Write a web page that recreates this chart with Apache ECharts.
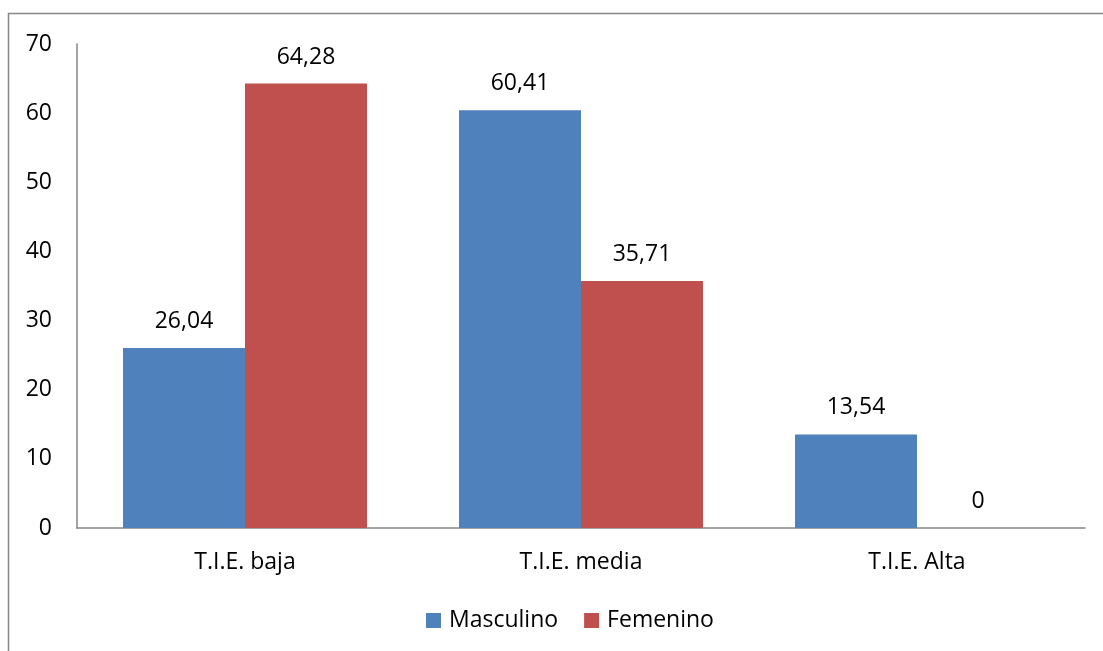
<!DOCTYPE html>
<html><head><meta charset="utf-8">
<script src="https://cdn.jsdelivr.net/npm/echarts@6/dist/echarts.min.js"></script>
<style>html,body{margin:0;padding:0;background:#fff}#c{width:1103px;height:651px}</style>
</head><body><div id="c"></div>
<script>
var categories = ['T.I.E. baja', 'T.I.E. media', 'T.I.E. Alta'];
var masculino = [26.04, 60.41, 13.54];
var femenino = [64.28, 35.71, 0];
var seriesNames = ['Masculino', 'Femenino'];

var font = 'Open Sans';
var chart = echarts.init(document.getElementById('c'));
function fmt(p){ return String(p.value).replace('.', ','); }
chart.setOption({
  animation: false,
  textStyle: { fontFamily: font },
  graphic: [{ type: 'rect', shape: { x: 8.5, y: 13.5, width: 1200, height: 800 }, style: { fill: 'none', stroke: '#868686', lineWidth: 1.5 }, silent: true }],
  grid: { left: 77, right: 18, top: 44, bottom: 123 },
  legend: {
    bottom: 14, left: 421, itemWidth: 15, itemHeight: 15, itemGap: 26,
    icon: 'rect',
    textStyle: { fontSize: 23, color: '#000', fontFamily: font, padding: [0, 0, 0, 3] },
    data: seriesNames
  },
  xAxis: {
    type: 'category', data: categories,
    axisLine: { lineStyle: { color: '#868686', width: 1.5 } },
    axisTick: { show: false },
    axisLabel: { fontSize: 23, color: '#000', margin: 23, fontFamily: font }
  },
  yAxis: {
    type: 'value', min: 0, max: 70, interval: 10,
    axisLine: { show: true, lineStyle: { color: '#868686', width: 1.5 } },
    axisTick: { show: false },
    splitLine: { show: false },
    axisLabel: { fontSize: 23, color: '#000', margin: 25, fontFamily: font }
  },
  series: [
    { name: seriesNames[0], type: 'bar', data: masculino, barWidth: 122, barGap: '0%',
      itemStyle: { color: '#4F81BD' },
      label: { show: true, position: 'top', distance: 15, fontSize: 23, color: '#000', formatter: fmt, fontFamily: font } },
    { name: seriesNames[1], type: 'bar', data: femenino, barWidth: 122, barGap: '0%',
      itemStyle: { color: '#C0504D' },
      label: { show: true, position: 'top', distance: 15, fontSize: 23, color: '#000', formatter: fmt, fontFamily: font } }
  ]
});
</script></body></html>
